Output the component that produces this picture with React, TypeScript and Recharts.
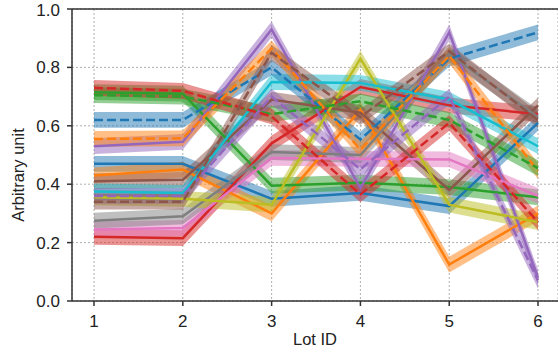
import React from 'react';
import { ComposedChart, Line, Area, XAxis, YAxis, CartesianGrid, ReferenceLine, Label } from 'recharts';

const lots = [1, 2, 3, 4, 5, 6];

// solid series
const blueS = [0.47, 0.47, 0.35, 0.37, 0.325, 0.61];
const orangeS = [0.43, 0.45, 0.3, 0.655, 0.125, 0.3];
const greenS = [0.715, 0.71, 0.395, 0.405, 0.39, 0.355];
const redS = [0.22, 0.215, 0.54, 0.733, 0.67, 0.64];
const purpleS = [0.53, 0.545, 0.93, 0.387, 0.92, 0.08];
const brownS = [0.41, 0.415, 0.69, 0.645, 0.38, 0.67];
const pinkS = [0.245, 0.25, 0.49, 0.487, 0.485, 0.36];
const grayS = [0.275, 0.29, 0.51, 0.5, 0.845, 0.63];
const oliveS = [0.355, 0.35, 0.33, 0.83, 0.33, 0.27];
const cyanS = [0.375, 0.37, 0.75, 0.747, 0.69, 0.53];

// dashed series
const blueD = [0.62, 0.62, 0.8, 0.553, 0.83, 0.92];
const orangeD = [0.555, 0.557, 0.865, 0.518, 0.84, 0.445];
const greenD = [0.705, 0.7, 0.64, 0.684, 0.62, 0.455];
const redD = [0.73, 0.72, 0.632, 0.365, 0.61, 0.27];
const purpleD = [0.36, 0.36, 0.7, 0.451, 0.7, 0.07];
const brownD = [0.34, 0.34, 0.85, 0.63, 0.855, 0.62];

const xTicks = [1, 2, 3, 4, 5, 6];
const yTicks = [0, 0.2, 0.4, 0.6, 0.8, 1.0];
const bandHalf = 0.027;

const series = [
  { key: 'blueS', color: '#1f77b4', dashed: false, values: blueS },
  { key: 'orangeS', color: '#ff7f0e', dashed: false, values: orangeS },
  { key: 'greenS', color: '#2ca02c', dashed: false, values: greenS },
  { key: 'redS', color: '#d62728', dashed: false, values: redS },
  { key: 'purpleS', color: '#9467bd', dashed: false, values: purpleS },
  { key: 'brownS', color: '#8c564b', dashed: false, values: brownS },
  { key: 'pinkS', color: '#e377c2', dashed: false, values: pinkS },
  { key: 'grayS', color: '#7f7f7f', dashed: false, values: grayS },
  { key: 'oliveS', color: '#bcbd22', dashed: false, values: oliveS },
  { key: 'cyanS', color: '#17becf', dashed: false, values: cyanS },
  { key: 'blueD', color: '#1f77b4', dashed: true, values: blueD },
  { key: 'orangeD', color: '#ff7f0e', dashed: true, values: orangeD },
  { key: 'greenD', color: '#2ca02c', dashed: true, values: greenD },
  { key: 'redD', color: '#d62728', dashed: true, values: redD },
  { key: 'purpleD', color: '#9467bd', dashed: true, values: purpleD },
  { key: 'brownD', color: '#8c564b', dashed: true, values: brownD },
];

const data = lots.map((lot, i) => {
  const row: Record<string, any> = { lot };
  series.forEach((s) => {
    row[s.key] = s.values[i];
    row[s.key + '_band'] = [s.values[i] - bandHalf, s.values[i] + bandHalf];
  });
  return row;
});

const FONT = '"Liberation Sans", Arial, sans-serif';
const AXIS = '#333333';

const YLabel = () => (
  <text
    x={24}
    y={175}
    transform="rotate(-90, 24, 175)"
    textAnchor="middle"
    fontSize={16.5}
    fontFamily={FONT}
    fill="#222"
  >
    Arbitrary unit
  </text>
);

export default function App() {
  const children: React.ReactNode[] = [];
  series.forEach((s) => {
    children.push(
      <Area
        key={s.key + '_a'}
        type="linear"
        dataKey={s.key + '_band'}
        stroke="none"
        fill={s.color}
        fillOpacity={0.5}
        isAnimationActive={false}
        activeDot={false}
        dot={false}
      />
    );
    children.push(
      <Line
        key={s.key + '_l'}
        type="linear"
        dataKey={s.key}
        stroke={s.color}
        strokeWidth={2.5}
        strokeDasharray={s.dashed ? '9 4' : undefined}
        dot={false}
        activeDot={false}
        isAnimationActive={false}
      />
    );
  });

  return (
    <div style={{ position: 'absolute', left: 0, top: 0, width: 558, height: 354, background: '#fff', overflow: 'hidden' }}>
      <ComposedChart width={558} height={354} data={data} margin={{ top: 9, right: 0, bottom: 0, left: 0 }}>
        <CartesianGrid stroke="#b0b0b0" strokeDasharray="2 2" strokeWidth={1} />
        <XAxis
          dataKey="lot"
          type="number"
          domain={[0.752, 6.225]}
          ticks={xTicks}
          allowDataOverflow
          height={53}
          tickSize={5}
          tickMargin={9}
          stroke={AXIS}
          strokeWidth={1.5}
          tick={{ fill: '#222', fontSize: 17, fontFamily: FONT }}
          tickLine={{ stroke: AXIS, strokeWidth: 1.5 }}
        >
          <Label value="Lot ID" position="insideBottom" offset={9} style={{ fill: '#222', fontSize: 16.5, fontFamily: FONT }} />
        </XAxis>
        <YAxis
          type="number"
          domain={[0, 1]}
          ticks={yTicks}
          allowDataOverflow
          width={72}
          tickSize={5}
          tickMargin={7}
          stroke={AXIS}
          strokeWidth={1.5}
          tickFormatter={(v: number) => v.toFixed(1)}
          tick={{ fill: '#222', fontSize: 17, fontFamily: FONT }}
          tickLine={{ stroke: AXIS, strokeWidth: 1.5 }}
          label={<YLabel />}
        />
        {children}
        <ReferenceLine y={1} stroke={AXIS} strokeWidth={1.5} />
      </ComposedChart>
    </div>
  );
}
